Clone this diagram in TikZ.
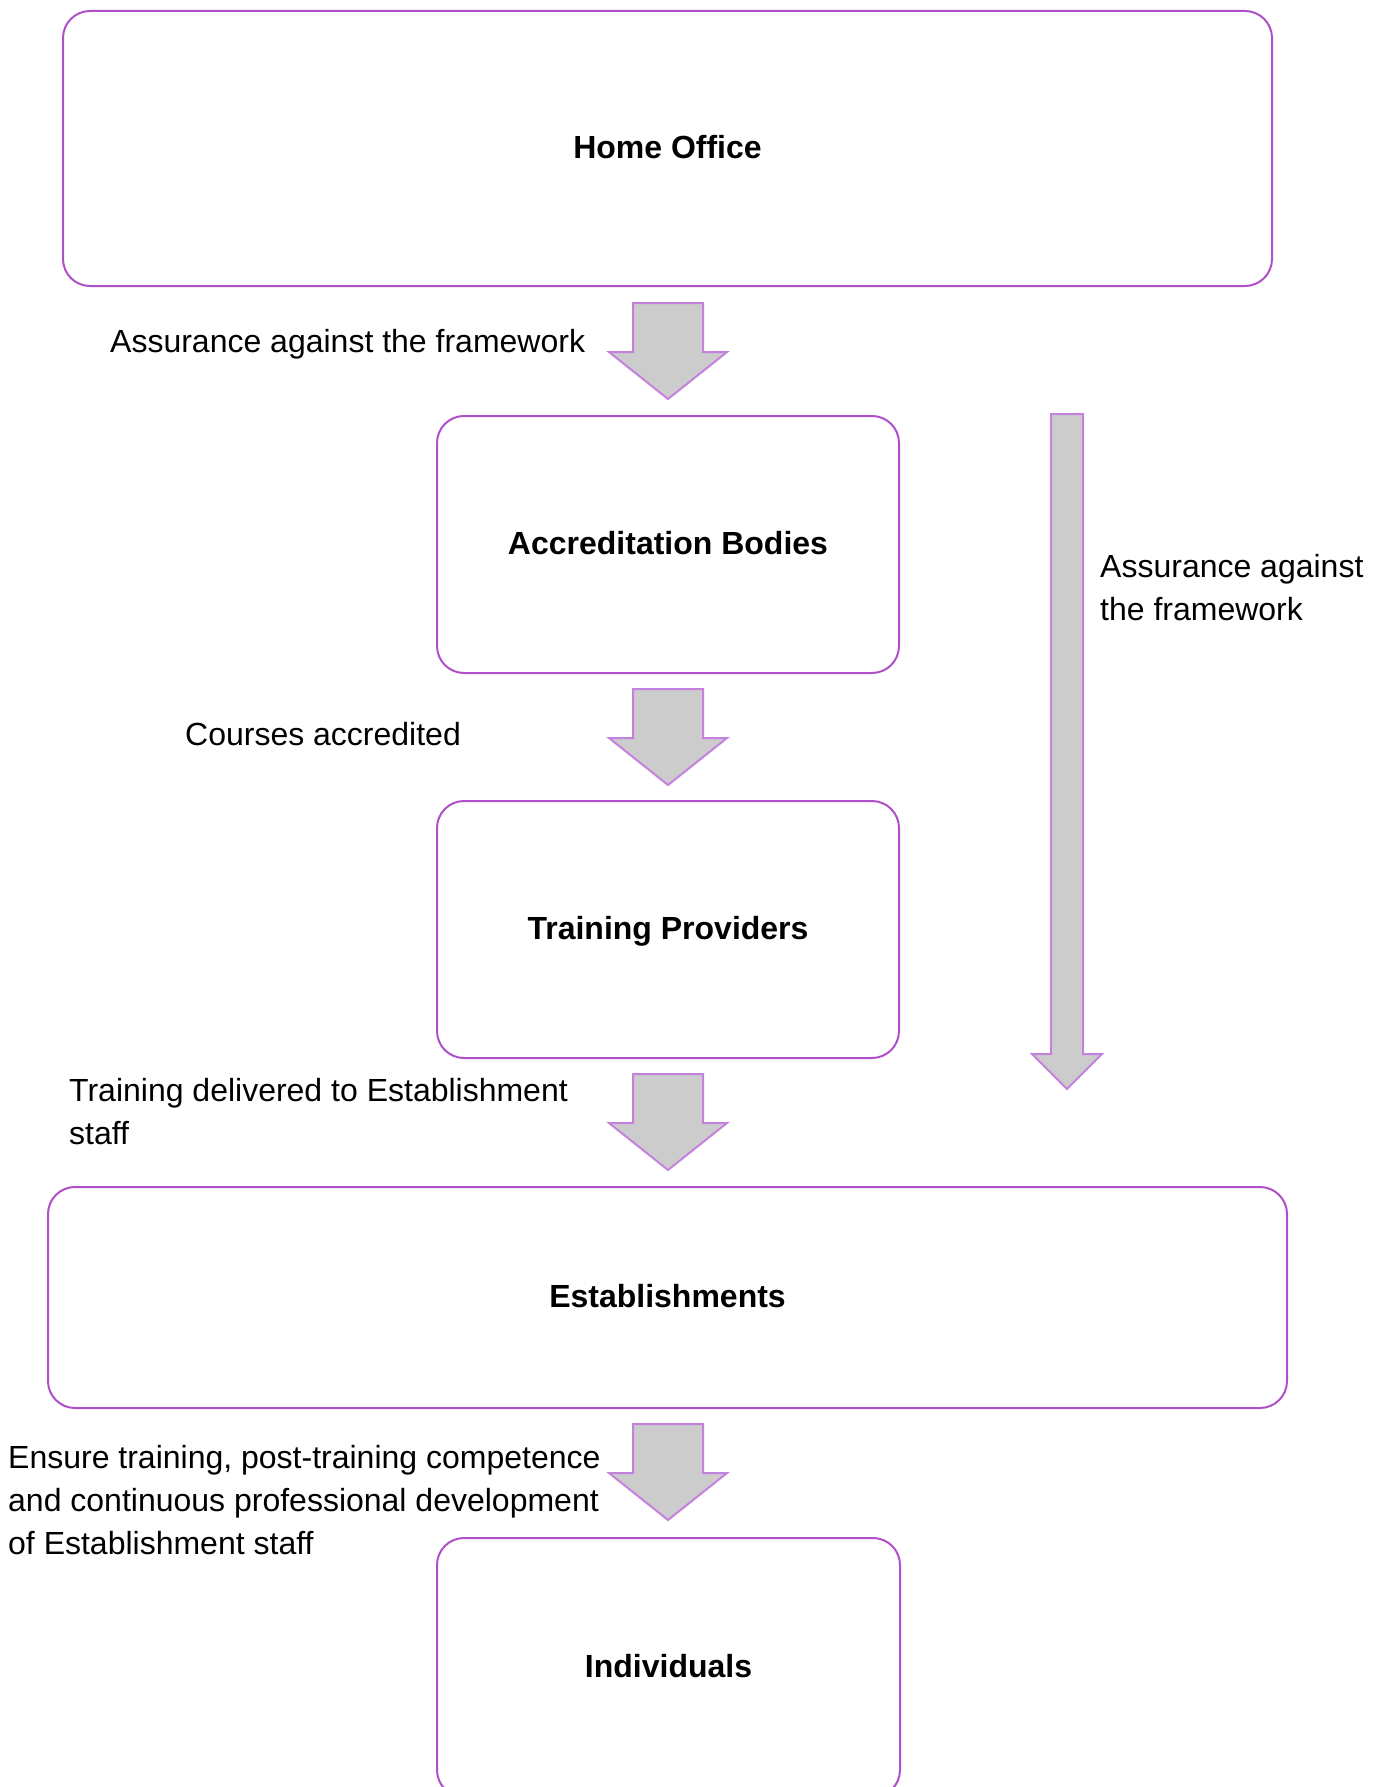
\documentclass[tikz,border=0pt]{standalone}
\usepackage{fontspec}
\setmainfont{Liberation Sans}
\definecolor{boxline}{RGB}{176,80,200}
\definecolor{arrline}{RGB}{196,130,222}
\definecolor{arrfill}{RGB}{204,204,204}
\tikzset{
  orgbox/.style={draw=boxline, line width=2pt, rounded corners=27pt, text depth=4pt, font=\fontsize{32}{43}\selectfont\bfseries},
  lbl/.style={font=\fontsize{32}{43}\selectfont, align=left, inner sep=0pt},
  blockarr/.style={draw=arrline, fill=arrfill, line width=2pt, line join=miter}
}
\begin{document}
\begin{tikzpicture}[x=1pt,y=-1pt]
\useasboundingbox (0,0) rectangle (1384,1787);
\fill[white] (0,0) rectangle (1384,1787);
% boxes
\node[orgbox, minimum width=1209pt, minimum height=275pt] (home) at (667.5,148.5) {Home Office};
\node[orgbox, minimum width=462pt, minimum height=257pt] (accr) at (668,544.5) {Accreditation Bodies};
\node[orgbox, minimum width=462pt, minimum height=257pt] (train) at (668,929.5) {Training Providers};
\node[orgbox, minimum width=1239pt, minimum height=221pt] (est) at (667.5,1297.5) {Establishments};
\node[orgbox, minimum width=463pt, minimum height=259pt] (indiv) at (668.5,1667.5) {Individuals};
% block arrows (down)
\foreach \t/\nm in {303/a1,689/a2,1074/a3,1424/a4}{
  \draw[blockarr] (633,\t) -- (703,\t) -- (703,\t+49) -- (727,\t+49) -- (668,\t+96) -- (609,\t+49) -- (633,\t+49) -- cycle;
  \coordinate (\nm) at (668,\t+96);
}
% long arrow
\draw[blockarr] (1051,414) -- (1083,414) -- (1083,1054) -- (1102,1054) -- (1067,1089) -- (1032,1054) -- (1051,1054) -- cycle;
\coordinate (longtip) at (1067,1089);
% labels
\node[lbl, anchor=west] (l1) at (110,344) {Assurance against the framework};
\node[lbl, anchor=west] (l2) at (185,734) {Courses accredited};
\node[lbl, anchor=west] (l3) at (1100,588) {Assurance against\\the framework};
\node[lbl, anchor=west] (l4) at (69,1111.5) {Training delivered to Establishment\\staff};
\node[lbl, anchor=west] (l5) at (8,1500) {Ensure training, post-training competence\\and continuous professional development\\of Establishment staff};
\end{tikzpicture}
\end{document}
